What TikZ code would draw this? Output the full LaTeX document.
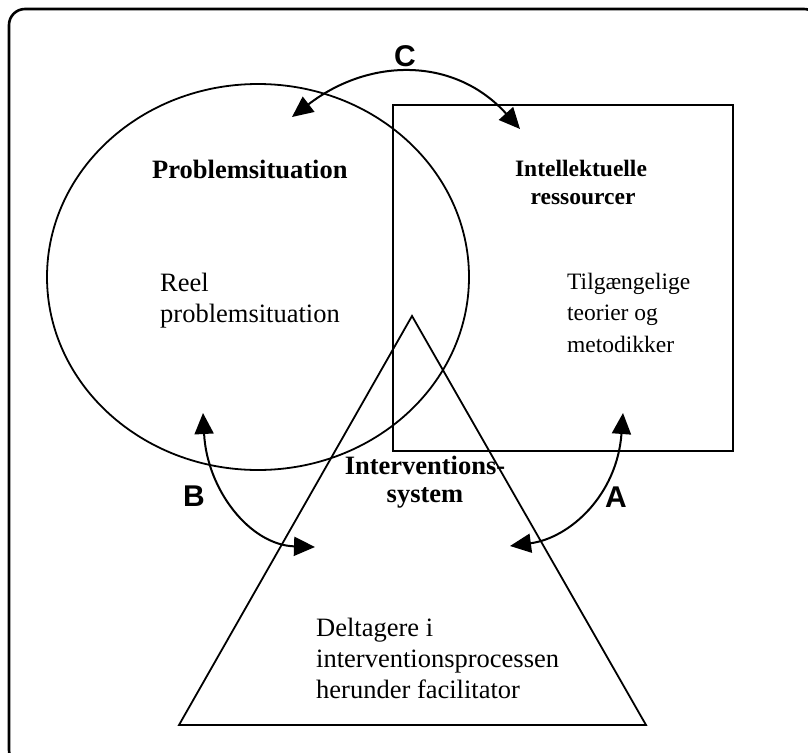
\documentclass[tikz,border=0pt]{standalone}
\usepackage{fontspec}
\setmainfont{Liberation Serif}
\newfontfamily\labelfont{Liberation Sans}
\usetikzlibrary{arrows.meta}
\begin{document}
\begin{tikzpicture}[x=1pt,y=-1pt,
  shapeline/.style={line width=1.8pt},
  link/.style={line width=2pt,
    {Triangle[length=21pt,width=19pt]}-{Triangle[length=21pt,width=19pt]}},
  head/.style={font=\fontsize{26.5}{31}\selectfont\bfseries, inner sep=0pt},
  body/.style={font=\fontsize{26.5}{31}\selectfont, anchor=base west, inner sep=0pt},
  smallhead/.style={font=\fontsize{23.5}{28}\selectfont\bfseries, inner sep=0pt},
  smallbody/.style={font=\fontsize{23.5}{28}\selectfont, anchor=base west, inner sep=0pt},
  tag/.style={font=\labelfont\bfseries\fontsize{30}{30}\selectfont, inner sep=0pt}]
\useasboundingbox (0,0) rectangle (808,752);

% outer frame, running off the page on the right and at the bottom
\begin{scope}
  \clip (0,0) rectangle (808,752);
  \draw[line width=2.6pt, rounded corners=16pt] (9,9) rectangle (820,766);
\end{scope}

% the three areas
\draw[shapeline] (258,277) ellipse [x radius=211, y radius=193];
\draw[shapeline] (393,105) rectangle (733,451);
\draw[shapeline] (412,316) -- (646,725) -- (179,725) -- cycle;

% problem situation
\node[head, anchor=base west] (ps) at (152,178) {Problemsituation};
\node[body] (ps1) at (160,291) {Reel};
\node[body] (ps2) at (160,322) {problemsituation};

% intellectual resources
\node[smallhead, anchor=base] (ir1) at (581,176) {Intellektuelle};
\node[smallhead, anchor=base] (ir2) at (583,204) {ressourcer};
\node[smallbody] (ir3) at (567,289) {Tilgængelige};
\node[smallbody] (ir4) at (567,320) {teorier og};
\node[smallbody] (ir5) at (567,352) {metodikker};

% intervention system
\node[head, anchor=base] (is1) at (425,474) {Interventions-};
\node[head, anchor=base] (is2) at (425,502) {system};
\node[body] (is3) at (316,636) {Deltagere i};
\node[body] (is4) at (316,667) {interventionsprocessen};
\node[body] (is5) at (316,698) {herunder facilitator};

% arrow ends
\coordinate (c1) at (292,117);
\coordinate (c2) at (520,129);
\coordinate (b1) at (203,413);
\coordinate (b2) at (315,547);
\coordinate (a1) at (623,413);
\coordinate (a2) at (510,546);

% two-way links
\draw[link] (c1) .. controls (370,57) and (455,57) .. (c2);
\draw[link] (b1) .. controls (207,490) and (250,545) .. (b2);
\draw[link] (a1) .. controls (617,495) and (570,538) .. (a2);

% link labels
\node[tag] (lc) at (405,56) {C};
\node[tag] (lb) at (194,496) {B};
\node[tag] (la) at (616,497) {A};
\end{tikzpicture}
\end{document}
